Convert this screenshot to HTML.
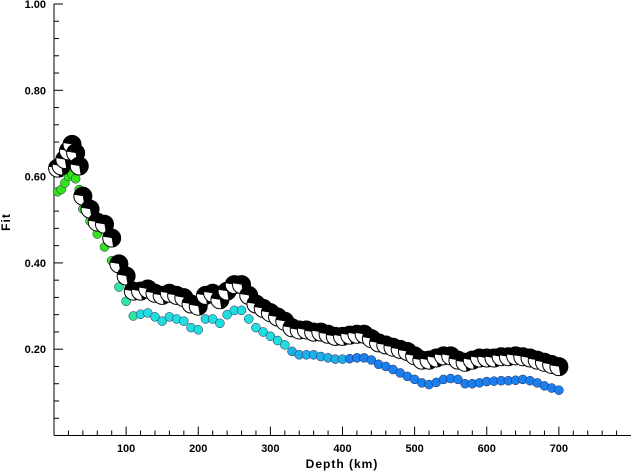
<!DOCTYPE html>
<html><head><meta charset="utf-8"><style>
body{margin:0;background:#fff}
svg{display:block;font-family:"Liberation Sans",sans-serif}
</style></head><body>
<svg id="chart" width="631" height="471" viewBox="0 0 631 471" xmlns="http://www.w3.org/2000/svg">
<g id="axes"></g>
<g id="dots"></g>
<g id="balls"></g>
<text x="342" y="468" text-anchor="middle" font-size="12" font-weight="bold" letter-spacing="1">Depth (km)</text>
<text transform="translate(10,222) rotate(-90)" text-anchor="middle" font-size="12" font-weight="bold" letter-spacing="1">Fit</text>
</svg>
<script>
const depths=[5,10,15,20,25,30,35,40,50,60,70,80,90,100,110,120,130,140,150,160,170,180,190,200,210,220,230,240,250,260,270,280,290,300,310,320,330,340,350,360,370,380,390,400,410,420,430,440,450,460,470,480,490,500,510,520,530,540,550,560,570,580,590,600,610,620,630,640,650,660,670,680,690,700];
const ballFit=[0.615,0.62,0.635,0.655,0.67,0.65,0.62,0.55,0.52,0.49,0.485,0.453,0.393,0.365,0.33,0.33,0.335,0.325,0.32,0.325,0.32,0.315,0.3,0.295,0.32,0.325,0.31,0.33,0.345,0.345,0.32,0.3,0.29,0.28,0.27,0.26,0.245,0.24,0.24,0.235,0.235,0.23,0.225,0.225,0.228,0.23,0.23,0.22,0.21,0.205,0.2,0.195,0.19,0.18,0.17,0.17,0.175,0.18,0.18,0.17,0.165,0.17,0.175,0.175,0.175,0.178,0.178,0.18,0.178,0.175,0.17,0.165,0.16,0.155];
const dotFit=[0.565,0.57,0.585,0.6,0.605,0.595,0.57,0.525,0.497,0.467,0.437,0.405,0.344,0.311,0.277,0.281,0.284,0.275,0.265,0.275,0.27,0.265,0.25,0.245,0.27,0.27,0.26,0.28,0.29,0.29,0.27,0.25,0.24,0.23,0.22,0.21,0.195,0.187,0.187,0.187,0.183,0.18,0.177,0.177,0.178,0.18,0.18,0.175,0.165,0.16,0.153,0.145,0.137,0.13,0.122,0.118,0.123,0.13,0.132,0.13,0.12,0.12,0.122,0.125,0.126,0.127,0.127,0.128,0.13,0.127,0.122,0.115,0.11,0.105];
const xTicks=[100,200,300,400,500,600,700];
const yTicks=[0.2,0.4,0.6,0.8,1.0];
const yTickLabels=["0.20","0.40","0.60","0.80","1.00"];

const NS="http://www.w3.org/2000/svg";
const X0=54,X1=631,Y0=435.5,Y1=4;
function xs(d){return X0+(d/800)*(X1-X0);}
function ys(v){return Y0-v*(Y0-Y1);}
function mk(tag,attrs,parent){const e=document.createElementNS(NS,tag);for(const k in attrs)e.setAttribute(k,attrs[k]);parent.appendChild(e);return e;}
const axes=document.getElementById('axes');
let l=mk('line',{x1:X0,y1:Y1,x2:X0,y2:Y0,stroke:'#000','stroke-width':1},axes);


l=mk('line',{x1:X0,y1:Y0,x2:X1,y2:Y0,stroke:'#000','stroke-width':1},axes);


for(let d=20;d<800;d+=20){const major=d%100===0;const t=mk('line',{x1:xs(d),x2:xs(d),y1:Y0,y2:Y0-(major?9:5),stroke:'#000'},axes);

}
xTicks.forEach(d=>{const t=mk('text',{x:xs(d),y:452,'text-anchor':'middle','font-size':11,'font-weight':'bold'},axes);t.textContent=String(d);

});
for(let i=1;i<=25;i++){const v=i*0.04;const major=i%5===0;const t=mk('line',{x1:X0,x2:X0+(major?9:5),y1:ys(v),y2:ys(v),stroke:'#000'},axes);

}
yTicks.forEach((v,i)=>{const t=mk('text',{x:46,y:ys(v)+4,'text-anchor':'end','font-size':11,'font-weight':'bold'},axes);t.textContent=yTickLabels[i];

});
function dotColor(d){
  if(d<=80)return '#33e41a';
  if(d<=110)return '#2ee6a0';
  if(d<=320)return '#22dddd';
  if(d<=400)return '#1bb0e8';
  return '#1a80ee';}
const dg=document.getElementById('dots');
depths.forEach((d,i)=>{const c=mk('circle',{cx:xs(d),cy:ys(dotFit[i]),r:4.5,fill:dotColor(d),stroke:'#225',"stroke-width":0.5},dg);

});
const bg=document.getElementById('balls');
depths.forEach((d,i)=>{const cx=xs(d),cy=ys(ballFit[i])-2,r=9;
const g=mk('g',{},bg);


mk('circle',{cx:cx,cy:cy,r:r,fill:'#fff',stroke:'#000','stroke-width':1},g);
const a1=Math.PI*1.05,a2=Math.PI*2.45;
const p=`M${cx},${cy} L${cx+r*Math.cos(a1)},${cy+r*Math.sin(a1)} A${r},${r} 0 1 1 ${cx+r*Math.cos(a2)},${cy+r*Math.sin(a2)} Z`;
mk('path',{d:p,fill:'#000'},g);
});
</script>
</body></html>
